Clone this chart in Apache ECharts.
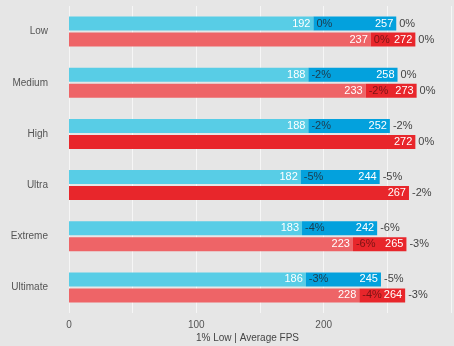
<!DOCTYPE html>
<html><head><meta charset="utf-8">
<script src="https://cdn.jsdelivr.net/npm/echarts@6/dist/echarts.min.js"></script>
<style>html,body{margin:0;padding:0;background:#e6e6e6;}#c{width:454px;height:346px;}</style>
</head><body><div id="c"></div>
<script>
var categories = ['Low', 'Medium', 'High', 'Ultra', 'Extreme', 'Ultimate'];
var blueLow = [192, 188, 188, 182, 183, 186];
var blueAvg = [257, 258, 252, 244, 242, 245];
var blueLowPct = ['0%', '-2%', '-2%', '-5%', '-4%', '-3%'];
var blueAvgPct = ['0%', '0%', '-2%', '-5%', '-6%', '-5%'];
var redLow = [237, 233, null, null, 223, 228];
var redAvg = [272, 273, 272, 267, 265, 264];
var redLowPct = ['0%', '-2%', '', '', '-6%', '-4%'];
var redAvgPct = ['0%', '0%', '0%', '-2%', '-3%', '-3%'];
var xTicks = [0, 100, 200];

var FONT = 'Liberation Sans, Arial, sans-serif';
var chart = echarts.init(document.getElementById('c'));

function seg(stack, data, color, label) {
  return {type: 'bar', stack: stack, data: data, barWidth: 14, barGap: '14%',
    itemStyle: {color: color}, label: label, silent: true};
}
function zeroLabel(stack, texts, pos, color) {
  return {type: 'bar', stack: stack, data: texts.map(function(){return 0;}), barWidth: 14, barGap: '14%',
    itemStyle: {color: 'transparent'},
    label: {show: true, position: pos, distance: 3, color: color, fontSize: 11, fontFamily: FONT,
      formatter: function(p){return texts[p.dataIndex] || '';}}};
}
function build(stack, low, avg, lowPct, avgPct, cLight, cDark, pctColor) {
  return [
    seg(stack, low.map(function(v){return v == null ? 0 : v;}), cLight,
      {show: true, position: 'insideRight', distance: 3, color: '#fff', fontSize: 11, fontFamily: FONT,
       formatter: function(p){return low[p.dataIndex] == null ? '' : low[p.dataIndex];}}),
    zeroLabel(stack, lowPct, 'right', pctColor),
    seg(stack, avg.map(function(v, i){return v - (low[i] == null ? 0 : low[i]);}), cDark,
      {show: true, position: 'insideRight', distance: 3, color: '#fff', fontSize: 11, fontFamily: FONT,
       formatter: function(p){return avg[p.dataIndex];}}),
    zeroLabel(stack, avgPct, 'right', '#444')
  ];
}

var series = [].concat(
  build('blue', blueLow, blueAvg, blueLowPct, blueAvgPct, '#58cde6', '#03a1dd', '#1d3b4d'),
  build('red', redLow, redAvg, redLowPct, redAvgPct, '#ee6467', '#e8262b', '#7a1414')
);

chart.setOption({
  backgroundColor: '#e6e6e6',
  animation: false,
  title: {text: '1% Low | Average FPS', left: 196, top: 333, padding: 0,
    textStyle: {fontSize: 10, fontWeight: 'normal', color: '#444', fontFamily: FONT}},
  grid: {left: 69, right: 0, top: 6, bottom: 33},
  xAxis: {type: 'value', min: 0, max: 300, interval: 50,
    axisLine: {show: false}, axisTick: {show: false},
    splitLine: {show: true, lineStyle: {color: '#f6f6f6', width: 1}},
    axisLabel: {color: '#555', fontSize: 10, fontFamily: FONT, margin: 7,
      formatter: function(v){return xTicks.indexOf(v) >= 0 ? String(v) : '';}}},
  yAxis: {type: 'category', data: categories, inverse: true,
    axisLine: {show: false}, axisTick: {show: false},
    axisLabel: {color: '#555', fontSize: 10, fontFamily: FONT, margin: 21}},
  series: series
});
</script></body></html>
